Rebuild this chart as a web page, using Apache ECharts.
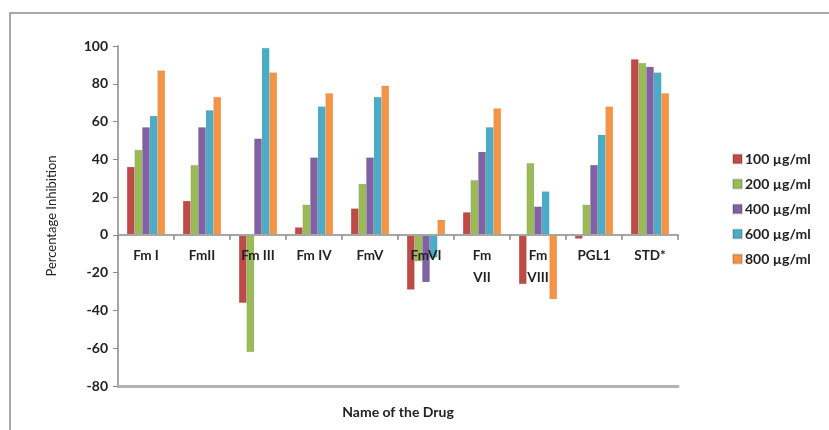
<!DOCTYPE html>
<html><head><meta charset="utf-8">
<script src="https://cdn.jsdelivr.net/npm/echarts@6/dist/echarts.min.js"></script>
<style>html,body{margin:0;padding:0;background:#fff}#c{width:829px;height:430px}</style>
</head><body><div id="c"></div>
<script>
var categories = ['Fm I', 'FmII', 'Fm III', 'Fm IV', 'FmV', 'FmVI', 'Fm\nVII', 'Fm\nVIII', 'PGL1', 'STD*'];
var seriesNames = ['100 µg/ml', '200 µg/ml', '400 µg/ml', '600 µg/ml', '800 µg/ml'];
var s100 = [36, 18, -36, 4, 14, -29, 12, -26, -2, 93];
var s200 = [45, 37, -62, 16, 27, -14, 29, 38, 16, 91];
var s400 = [57, 57, 51, 41, 41, -25, 44, 15, 37, 89];
var s600 = [63, 66, 99, 68, 73, -12, 57, 23, 53, 86];
var s800 = [87, 73, 86, 75, 79, 8, 67, -34, 68, 75];
var yTicks = [-80, -60, -40, -20, 0, 20, 40, 60, 80, 100];
var colors = ['#be4b48', '#9bbb59', '#7f62a1', '#4bacc6', '#f59445'];
var allData = [s100, s200, s400, s600, s800];
var font = 'Lato, "Open Sans", sans-serif';
var gridTop = 46, gridBottom = 44, chartH = 430;
var plotH = chartH - gridTop - gridBottom;
var yMin = yTicks[0], yMax = yTicks[yTicks.length - 1];
var zeroOffset = -plotH * (0 - yMin) / (yMax - yMin);

var chart = echarts.init(document.getElementById('c'));
chart.setOption({
  animation: false,
  backgroundColor: '#fff',
  graphic: [{
    type: 'rect', shape: {x: 10, y: 13, width: 840, height: 440},
    style: {fill: 'none', stroke: '#8c8c8c', lineWidth: 1.5}, silent: true
  }],
  grid: {left: 118, right: 151, top: gridTop, bottom: gridBottom},
  legend: {
    orient: 'vertical', left: 727, top: 147, itemWidth: 9, itemHeight: 9, itemGap: 11,
    icon: 'rect', data: seriesNames,
    textStyle: {fontFamily: font, fontSize: 14, fontWeight: 'bold', color: '#222', padding: [0, 0, 0, -2]}
  },
  xAxis: [{
    type: 'category', data: categories, position: 'bottom', offset: zeroOffset, z: 10,
    axisLine: {onZero: false, lineStyle: {color: '#a6a6a6', width: 2}},
    axisTick: {show: true, length: 5, lineStyle: {color: '#8c8c8c', width: 1.5}},
    axisLabel: {fontFamily: font, fontSize: 13.5, fontWeight: 'bold', color: '#222', margin: 10, interval: 0, lineHeight: 22}
  }, {
    type: 'category', data: categories, position: 'bottom',
    axisLine: {onZero: false, lineStyle: {color: '#b3b3b3', width: 3}},
    axisTick: {show: false}, axisLabel: {show: false},
    name: 'Name of the Drug', nameLocation: 'middle', nameGap: 19,
    nameTextStyle: {fontFamily: font, fontSize: 14, fontWeight: 'bold', color: '#222'}
  }],
  yAxis: {
    type: 'value', min: yMin, max: yMax, interval: 20,
    axisLine: {show: true, onZero: false, lineStyle: {color: '#a6a6a6', width: 2}},
    axisTick: {show: true, length: 5, lineStyle: {color: '#8c8c8c'}},
    splitLine: {show: false},
    axisLabel: {fontFamily: font, fontSize: 14, fontWeight: 'bold', color: '#222', margin: 10},
    name: 'Percentage Inhibition', nameLocation: 'middle', nameGap: 60,
    nameTextStyle: {fontFamily: font, fontSize: 13, color: '#222'}
  },
  series: seriesNames.map(function (n, i) {
    return {
      name: n, type: 'bar', data: allData[i], barGap: '0%', barCategoryGap: '32%',
      itemStyle: {color: colors[i], borderColor: 'rgba(0,0,0,0.15)', borderWidth: 0.5}
    };
  })
});
</script></body></html>
